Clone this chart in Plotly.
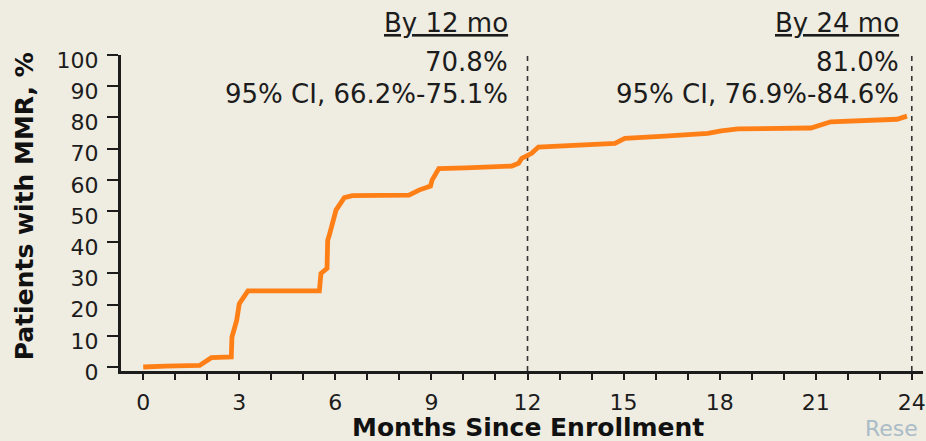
import plotly.graph_objects as go

# ---- data ----
months = [0, 0.6, 0.7, 1.76, 2.13, 2.75, 2.77, 2.92, 3.0, 3.27, 5.5, 5.55, 5.74, 5.76,
          5.81, 6.02, 6.28, 6.53, 8.3, 8.61, 8.97, 9.02, 9.23, 10.06, 11.51, 11.72,
          11.82, 12.13, 12.34, 14.73, 15.04, 16.29, 17.63, 18.05, 18.57, 20.85, 21.47,
          23.54, 23.85]
pct_mmr = [0, 0, 0.3, 0.5, 3.0, 3.2, 9.6, 15.0, 20.3, 24.4, 24.4, 30.0, 31.6, 40.6,
           42.2, 50.3, 54.3, 54.9, 55.1, 56.7, 58.0, 59.9, 63.6, 63.8, 64.4, 65.3,
           66.9, 68.5, 70.5, 71.7, 73.3, 74.0, 74.9, 75.7, 76.3, 76.6, 78.6, 79.4, 80.4]

x_ticks = [0, 3, 6, 9, 12, 15, 18, 21, 24]
y_ticks = [0, 10, 20, 30, 40, 50, 60, 70, 80, 90, 100]
landmarks = [12, 24]
landmark_titles = ["By 12 mo", "By 24 mo"]
landmark_rates = ["70.8%", "81.0%"]
landmark_cis = ["95% CI, 66.2%-75.1%", "95% CI, 76.9%-84.6%"]

BG = "#EFECE1"
INK = "#1c1c1c"
ORANGE = "#FF7F17"
FONT = "DejaVu Sans"

fig = go.Figure()
fig.add_trace(go.Scatter(x=months, y=pct_mmr, mode="lines",
                         line=dict(color=ORANGE, width=4.8), hoverinfo="skip",
                         showlegend=False))

for lm in landmarks:
    fig.add_shape(type="line", x0=lm, x1=lm, y0=-1.28, y1=100, xref="x", yref="y",
                  line=dict(color="#333333", width=1.6, dash="5px,5px"), layer="below")

ann = []
right_edges = [11.44, 23.66]
for i, lm in enumerate(landmarks):
    ann.append(dict(x=right_edges[i], y=1.101, xref="x", yref="paper", xanchor="right",
                    yanchor="middle", text=landmark_titles[i], showarrow=False,
                    font=dict(family=FONT, size=26, color=INK, lineposition="under")))
    ann.append(dict(x=right_edges[i], y=97.6, xref="x", yref="y", xanchor="right",
                    yanchor="middle", text=landmark_rates[i], showarrow=False,
                    font=dict(family=FONT, size=26, color=INK)))
    ann.append(dict(x=right_edges[i], y=87.6, xref="x", yref="y", xanchor="right",
                    yanchor="middle", text=landmark_cis[i], showarrow=False,
                    font=dict(family=FONT, size=26, color=INK)))

ann.append(dict(x=12, y=-0.180, xref="x", yref="paper", xanchor="center", yanchor="middle",
                text="<b>Months Since Enrollment</b>", showarrow=False,
                font=dict(family=FONT, size=25, color="#111111")))
ann.append(dict(x=-0.1205, y=51.6, xref="paper", yref="y", xanchor="center",
                yanchor="middle", textangle=-90, text="<b>Patients with MMR, %</b>",
                showarrow=False, font=dict(family=FONT, size=25, color="#111111")))
ann.append(dict(x=0.9255, y=-0.183, xref="paper", yref="paper", xanchor="left",
                yanchor="middle", text="Rese", showarrow=False,
                font=dict(family=FONT, size=22, color="#A9BCC7")))

fig.update_layout(
    width=926, height=441,
    margin=dict(l=121, r=0, t=55, b=70, pad=0),
    paper_bgcolor=BG, plot_bgcolor=BG,
    annotations=ann,
    xaxis=dict(range=[-0.694, 24.35], tickvals=x_ticks, ticktext=[str(v) for v in x_ticks],
               ticks="outside", ticklen=6, tickwidth=2, tickcolor=INK,
               minor=dict(dtick=1, tick0=0, ticks="outside", ticklen=6, tickwidth=2,
                          tickcolor=INK, showgrid=False),
               showline=True, linewidth=3, linecolor=INK, showgrid=False, zeroline=False,
               tickfont=dict(family=FONT, size=22, color=INK), ticklabelstandoff=4,
               ticklabeloverflow="allow"),
    yaxis=dict(range=[-1.28, 100], tickvals=y_ticks, ticktext=[str(v) for v in y_ticks],
               ticks="outside", ticklen=11, tickwidth=2, tickcolor=INK,
               showline=True, linewidth=3, linecolor=INK, showgrid=False, zeroline=False,
               tickfont=dict(family=FONT, size=22, color=INK), ticklabelstandoff=4,
               ticklabelshift=5),
)

fig.write_html("out.html", config={"displayModeBar": False},
               post_script="document.body.style.margin='0';"
                           "document.body.style.overflow='hidden';")
